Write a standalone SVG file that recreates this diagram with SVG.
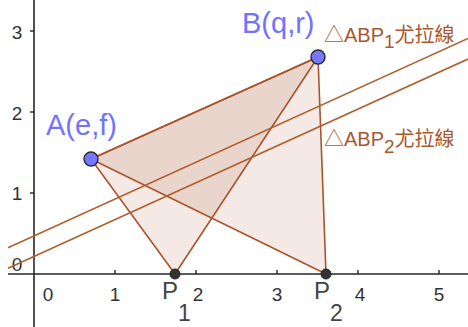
<svg xmlns="http://www.w3.org/2000/svg" width="468" height="327" viewBox="0 0 468 327">
<style>
.axis{stroke:#262626;stroke-width:1.6;fill:none}
.tick{stroke:#262626;stroke-width:1.4}
.tl{font-family:"Liberation Sans",Arial,sans-serif;font-size:19px;fill:#333;text-anchor:middle}
.tri{fill:#a8552c;fill-opacity:0.13;stroke:#a8552c;stroke-width:1.6;stroke-linejoin:round}
.euler{stroke:#b0602f;stroke-width:1.6;fill:none}
.elab{font-family:"Liberation Sans",Arial,"Noto Sans CJK TC",sans-serif;font-size:20px;fill:#a9582f}
.pt{fill:#7676ff;stroke:#2a2a2a;stroke-width:1.4}
.gp{fill:#333;stroke:#222;stroke-width:1}
.blab{font-family:"Liberation Sans",Arial,sans-serif;font-size:29px;fill:#7272ff}
.plab{font-family:"Liberation Sans",Arial,sans-serif;font-size:24px;fill:#444}
</style>
<rect width="468" height="327" fill="#fff"/>
<g id="axes">
<line class="axis" x1="34" y1="0" x2="34" y2="327"/>
<line class="axis" x1="8" y1="274" x2="468" y2="274"/>
<line class="tick" x1="115" y1="270" x2="115" y2="274"/>
<line class="tick" x1="196" y1="270" x2="196" y2="274"/>
<line class="tick" x1="277" y1="270" x2="277" y2="274"/>
<line class="tick" x1="358" y1="270" x2="358" y2="274"/>
<line class="tick" x1="439" y1="270" x2="439" y2="274"/>
<line class="tick" x1="30" y1="193" x2="34" y2="193"/>
<line class="tick" x1="30" y1="112" x2="34" y2="112"/>
<line class="tick" x1="30" y1="31" x2="34" y2="31"/>
<text class="tl" x="48" y="301">0</text>
<text class="tl" x="115" y="301">1</text>
<text class="tl" x="198" y="301">2</text>
<text class="tl" x="277" y="301">3</text>
<text class="tl" x="360" y="301">4</text>
<text class="tl" x="439" y="301">5</text>
<text class="tl" x="17" y="271">0</text>
<text class="tl" x="17" y="200">1</text>
<text class="tl" x="17" y="120">2</text>
<text class="tl" x="17" y="39">3</text>
</g>
<g id="triangle-ABP1"><polygon class="tri" points="91,159 318,57 175,274"/></g>
<g id="triangle-ABP2"><polygon class="tri" points="91,159 318,57 326,274"/></g>
<g id="connectors">
<line class="euler" x1="8" y1="247.7" x2="468" y2="38.4"/>
<line class="euler" x1="8" y1="268.3" x2="468" y2="59"/>
</g>
<g id="label-euler1"><text class="elab" x="324" y="42">△ABP<tspan font-size="19" dy="6">1</tspan><tspan dy="-6">尤拉線</tspan></text></g>
<g id="label-euler2"><text class="elab" x="324" y="146">△ABP<tspan font-size="19" dy="7">2</tspan><tspan dy="-7">尤拉線</tspan></text></g>
<g id="point-A"><circle class="pt" cx="91" cy="159" r="7"/><text class="blab" x="46" y="135">A(e,f)</text></g>
<g id="point-B"><circle class="pt" cx="318" cy="57" r="7"/><text class="blab" x="242" y="33">B(q,r)</text></g>
<g id="point-P1"><circle class="gp" cx="175" cy="274" r="5"/><text class="plab" x="162" y="299">P<tspan font-size="23" dy="22">1</tspan></text></g>
<g id="point-P2"><circle class="gp" cx="326" cy="274" r="5"/><text class="plab" x="314" y="299">P<tspan font-size="23" dy="22">2</tspan></text></g>
</svg>
